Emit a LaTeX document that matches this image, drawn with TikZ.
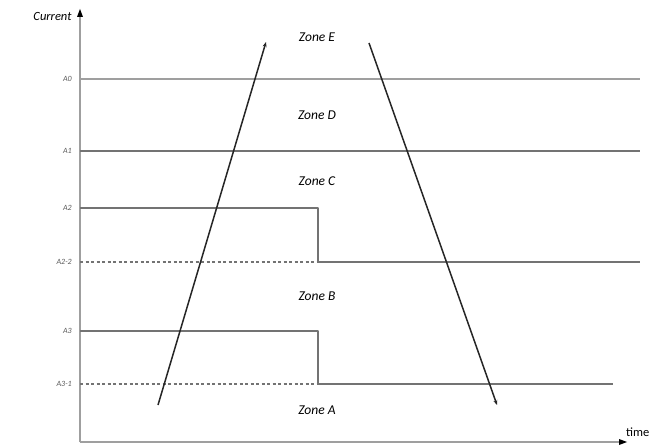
\documentclass[tikz,border=0pt]{standalone}
\usepackage{fontspec}
\setmainfont{Carlito}
\usetikzlibrary{arrows.meta}
\begin{document}
\begin{tikzpicture}[x=1pt, y=-1pt, line join=round, line cap=butt, >={Stealth[length=5pt,width=4pt]},
  axis/.style={draw=gray!75, line width=2pt},
  level/.style={draw=gray!90!black, line width=1.3pt},
  thr/.style={level, dash pattern=on 3pt off 2.5pt},
  lab/.style={font=\itshape\fontsize{8}{9}\selectfont, text=gray!70!black, anchor=east, inner sep=1pt},
  zone/.style={font=\itshape\fontsize{13.5}{15}\selectfont},
  ramp/.style={draw=black!85, line width=1.5pt, ->}]
\useasboundingbox (0,0) rectangle (658,446);
% axes
\coordinate (O) at (80,442);
\coordinate (ytop) at (80,12);
\coordinate (xend) at (624,442);
\draw[axis] (O) -- (ytop);
\draw[axis] (O) -- (xend);
\fill[black] (ytop) ++(0,-3) -- ++(-3,8) -- ++(6,0) -- cycle;
\fill[black] (xend) ++(3,0) -- ++(-8,-3) -- ++(0,6) -- cycle;
\node[font=\itshape\fontsize{12.5}{14}\selectfont, anchor=east] (cur) at (75,16) {Current};
\node[font=\fontsize{12.5}{14}\selectfont, anchor=west, inner sep=1pt] (time) at (625,432) {time};
% levels
\coordinate (a0) at (80,79);   \coordinate (a0e) at (640,79);
\coordinate (a1) at (80,151);  \coordinate (a1e) at (640,151);
\coordinate (a2) at (80,208);  \coordinate (a2s) at (318,208);
\coordinate (a22) at (80,262); \coordinate (a22s) at (318,262); \coordinate (a22e) at (640,262);
\coordinate (a3) at (80,331);  \coordinate (a3s) at (318,331);
\coordinate (a31) at (80,384); \coordinate (a31s) at (318,384); \coordinate (a31e) at (613,384);
\draw[axis, line width=1.8pt] (a0) -- (a0e);
\draw[level] (a1) -- (a1e);
\draw[level] (a2) -- (a2s) -- (a22s) -- (a22e);
\draw[thr] (a22) -- (a22s);
\draw[level] (a3) -- (a3s) -- (a31s) -- (a31e);
\draw[thr] (a31) -- (a31s);
\node[lab] (la0) at (a0) [xshift=-7pt] {A0};
\node[lab] (la1) at (a1) [xshift=-7pt] {A1};
\node[lab] (la2) at (a2) [xshift=-7pt] {A2};
\node[lab] (la22) at (a22) [xshift=-7pt] {A2-2};
\node[lab] (la3) at (a3) [xshift=-7pt] {A3};
\node[lab] (la31) at (a31) [xshift=-7pt] {A3-1};
% zones
\node[zone] (zE) at (317,37) {Zone E};
\node[zone] (zD) at (317,115) {Zone D};
\node[zone] (zC) at (317,181) {Zone C};
\node[zone] (zB) at (317,296) {Zone B};
\node[zone] (zA) at (317,410) {Zone A};
% ramps
\coordinate (up0) at (158,405); \coordinate (up1) at (266,42);
\coordinate (dn0) at (369,43);  \coordinate (dn1) at (497,405);
\draw[ramp] (up0) -- (up1);
\draw[ramp] (dn0) -- (dn1);
\end{tikzpicture}
\end{document}
